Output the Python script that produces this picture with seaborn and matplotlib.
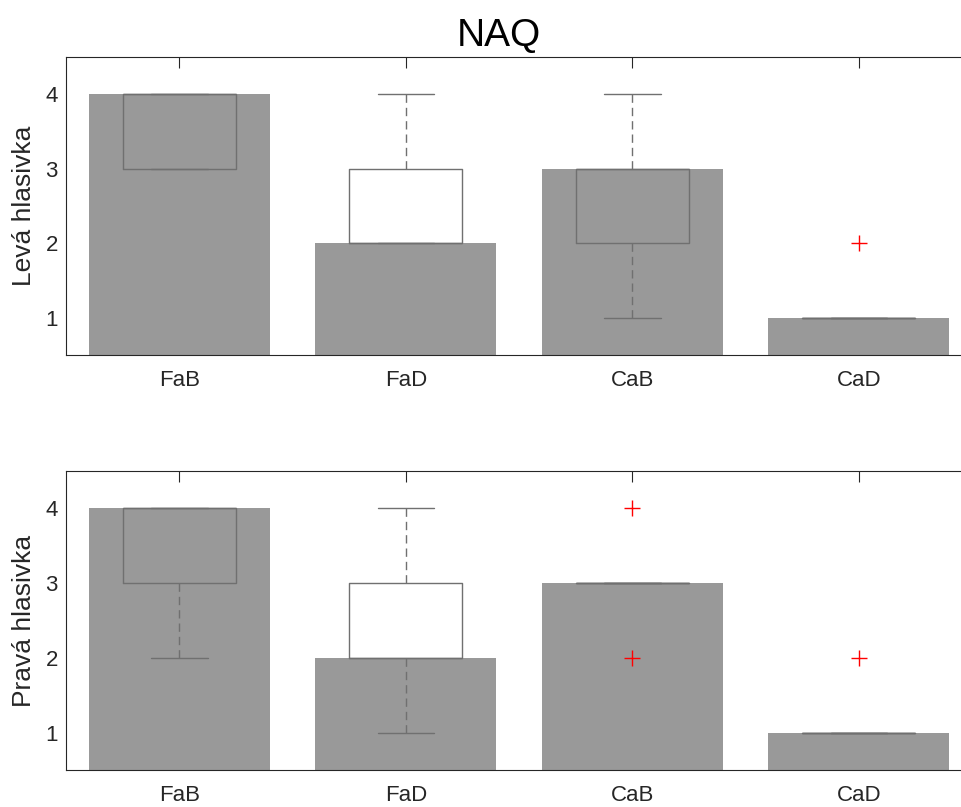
import numpy as np
import pandas as pd
import seaborn as sns
import matplotlib
matplotlib.use("Agg")
import matplotlib.pyplot as plt

# NAQ scores per group (9 values per group)
groups = ["FaB", "FaD", "CaB", "CaD"]

leva_FaB = [3, 3, 3, 4, 4, 4, 4, 4, 4]
leva_FaD = [2, 2, 2, 2, 2, 3, 3, 4, 4]
leva_CaB = [1, 2, 2, 3, 3, 3, 3, 4, 4]
leva_CaD = [1, 1, 1, 1, 1, 1, 1, 1, 2]

prava_FaB = [2, 3, 3, 4, 4, 4, 4, 4, 4]
prava_FaD = [1, 2, 2, 2, 2, 3, 3, 4, 4]
prava_CaB = [2, 3, 3, 3, 3, 3, 3, 3, 4]
prava_CaD = [1, 1, 1, 1, 1, 1, 1, 1, 2]

y_ticks = [1, 2, 3, 4]

bar_color = "#999999"
box_color = "#707070"
axis_color = "#262626"

sns.set_style("white")
plt.rcParams["font.family"] = ["Liberation Sans", "DejaVu Sans"]


def make_df(values):
    # long format table for seaborn
    rows = []
    for g, vals in zip(groups, values):
        for v in vals:
            rows.append({"skupina": g, "skore": v})
    return pd.DataFrame(rows)


def draw_panel(ax, values, ylabel):
    df = make_df(values)
    sns.barplot(data=df, x="skupina", y="skore", order=groups, estimator="median",
                errorbar=None, color=bar_color, saturation=1, width=0.8, linewidth=0, ax=ax)
    dash = (0, (6, 3.6))
    sns.boxplot(data=df, x="skupina", y="skore", order=groups, width=0.5, fill=False,
                whis=1.5, ax=ax,
                boxprops={"color": box_color, "linewidth": 1},
                medianprops={"color": box_color, "linewidth": 1},
                whiskerprops={"color": box_color, "linewidth": 1, "linestyle": dash},
                capprops={"color": box_color, "linewidth": 1},
                flierprops={"marker": "+", "markeredgecolor": "red", "markerfacecolor": "none",
                            "markersize": 12, "markeredgewidth": 1, "linestyle": "none"})
    ax.set_xlim(-0.5, 3.5)
    ax.set_ylim(0.5, 4.5)
    ax.set_yticks(y_ticks)
    ax.set_xlabel("")
    ax.set_ylabel(ylabel, fontsize=19, color=axis_color, labelpad=7)
    ax.tick_params(axis="both", direction="in", top=True, right=True, length=8, width=0.8,
                   colors=axis_color, labelsize=16)
    ax.tick_params(axis="x", pad=11)
    ax.tick_params(axis="y", pad=6)
    for s in ax.spines.values():
        s.set_visible(True)
        s.set_color(axis_color)
        s.set_linewidth(0.8)


fig = plt.figure(figsize=(9.62, 8.07), dpi=100)
ax1 = fig.add_axes([0.0687, 0.5601, 0.9418, 0.3693])
ax2 = fig.add_axes([0.0687, 0.0458, 0.9418, 0.3705])

draw_panel(ax1, [leva_FaB, leva_FaD, leva_CaB, leva_CaD], "Levá hlasivka")
draw_panel(ax2, [prava_FaB, prava_FaD, prava_CaB, prava_CaD], "Pravá hlasivka")

fig.text(499 / 962, 1 - 46 / 807, "NAQ", ha="center", va="baseline", fontsize=28, color="black")

fig.savefig("out.png", dpi=100)
